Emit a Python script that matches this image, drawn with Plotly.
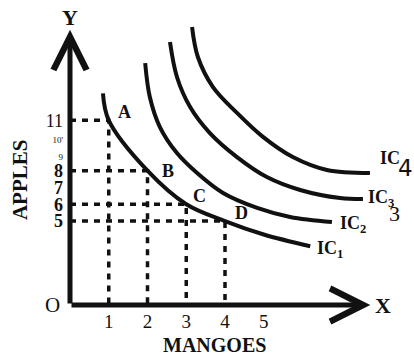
import plotly.graph_objects as go

# points on the first indifference curve
point_names = ['A', 'B', 'C', 'D']
mangoes = [1, 2, 3, 4]
apples = [11, 8, 6, 5]

# indifference curves
ic1_x = [0.85, 1, 2, 3, 4, 5.0, 6.2]
ic1_y = [12.6, 11, 8, 6, 5, 4.2, 3.5]
ic2_x = [1.94, 2.06, 2.32, 2.76, 3.28, 3.95, 4.83, 5.68, 6.76]
ic2_y = [14.41, 12.39, 10.6, 9.05, 7.86, 6.67, 5.78, 5.24, 4.94]
ic3_x = [2.58, 2.76, 3.1, 3.61, 4.31, 5.08, 5.94, 6.97, 7.56]
ic3_y = [15.66, 13.58, 11.79, 10.24, 8.81, 7.62, 6.85, 6.37, 6.31]
ic4_x = [3.15, 3.3, 3.69, 4.31, 4.98, 5.75, 6.63, 7.74]
ic4_y = [16.56, 14.77, 12.98, 11.44, 10.01, 8.81, 8.04, 7.86]

x_ticks = [1, 2, 3, 4, 5]
y_ticks = [5, 6, 7, 8, 9, 10, 11]
y_ticktext = ['<b>5</b>', '<b>6</b>', '<b>7</b>', '<b>8</b>',
              '<span style="font-size:9px">9</span>',
              '<span style="font-size:9px">10\'</span>', '11']

SERIF = 'Liberation Serif, Times New Roman, serif'
INK = '#111111'

fig = go.Figure()

# dashed guides from each point to the axes
for mx, ay in zip(mangoes, apples):
    fig.add_trace(go.Scatter(x=[0, mx, mx], y=[ay, ay, 0], mode='lines',
                             line=dict(color=INK, width=3.5, dash='6px,6px'),
                             hoverinfo='skip', showlegend=False))

curves = [(ic1_x, ic1_y), (ic2_x, ic2_y), (ic3_x, ic3_y), (ic4_x, ic4_y)]
for cx, cy in curves:
    fig.add_trace(go.Scatter(x=cx, y=cy, mode='lines',
                             line=dict(color=INK, width=4, shape='spline'),
                             hoverinfo='skip', showlegend=False))

# axes with chevron arrow heads
fig.add_annotation(x=7.75, y=0, ax=0, ay=0, xref='x', yref='y', axref='x', ayref='y',
                   text='', showarrow=True, arrowhead=5, arrowwidth=5, arrowsize=1.3,
                   arrowcolor=INK)
fig.add_annotation(x=0, y=16.4, ax=0, ay=0, xref='x', yref='y', axref='x', ayref='y',
                   text='', showarrow=True, arrowhead=5, arrowwidth=5, arrowsize=1.3,
                   arrowcolor=INK)

def label(text, x, y, size=18, dx=0, dy=0, anchor='center', bold=True, font=SERIF,
          xref='x', yref='y', angle=0):
    fig.add_annotation(x=x, y=y, xref=xref, yref=yref, showarrow=False,
                       text='<b>%s</b>' % text if bold else text,
                       xshift=dx, yshift=dy, xanchor=anchor, yanchor='middle',
                       textangle=angle,
                       font=dict(family=font, size=size, color=INK))

shifts = {'A': (16, 8), 'B': (20, 0), 'C': (13, 8), 'D': (16, 8)}
for name, mx, ay in zip(point_names, mangoes, apples):
    dx, dy = shifts[name]
    label(name, mx, ay, size=18, dx=dx, dy=dy)

label('IC<sub>1</sub>', ic1_x[-1], ic1_y[-1], dx=5, dy=-3, anchor='left')
label('IC<sub>2</sub>', ic2_x[-1], ic2_y[-1], dx=6, dy=-2, anchor='left')
label('IC<sub>3</sub>', ic3_x[-1], ic3_y[-1], dx=3, dy=1, anchor='left')
label('3', ic3_x[-1], ic3_y[-1], size=22, dx=32, dy=-14, bold=False)
label('IC', ic4_x[-1], ic4_y[-1], dx=8, dy=15, anchor='left')
label('4', ic4_x[-1], ic4_y[-1], size=23, dx=36, dy=5, bold=False,
      font='DejaVu Sans, sans-serif')

label('Y', 0, 16.4, size=22, dy=12)
label('X', 7.75, 0, size=22, dx=13)
label('O', 0, 0, size=21, dx=-18, bold=False)

# axis titles
label('MANGOES', 3.74, 0, size=20, dy=-40, yref='paper')
label('APPLES', 0, 7.44, size=21, dx=-50, xref='paper', angle=-90)

fig.update_layout(
    width=414, height=357,
    margin=dict(l=70, r=3, t=10, b=52),
    plot_bgcolor='white', paper_bgcolor='white',
    font=dict(family=SERIF, color=INK),
    xaxis=dict(range=[0, 8.8], showgrid=False, zeroline=False, showline=False,
               tickvals=x_ticks, ticktext=[str(v) for v in x_ticks],
               tickfont=dict(size=19), ticks='', ticklabelstandoff=3),
    yaxis=dict(range=[0, 17.57], showgrid=False, zeroline=False, showline=False,
               tickvals=y_ticks, ticktext=y_ticktext,
               tickfont=dict(size=18), ticks='', ticklabelstandoff=6),
)

fig.write_html('out.html', config={'displayModeBar': False},
               post_script="document.body.style.margin='0';")
